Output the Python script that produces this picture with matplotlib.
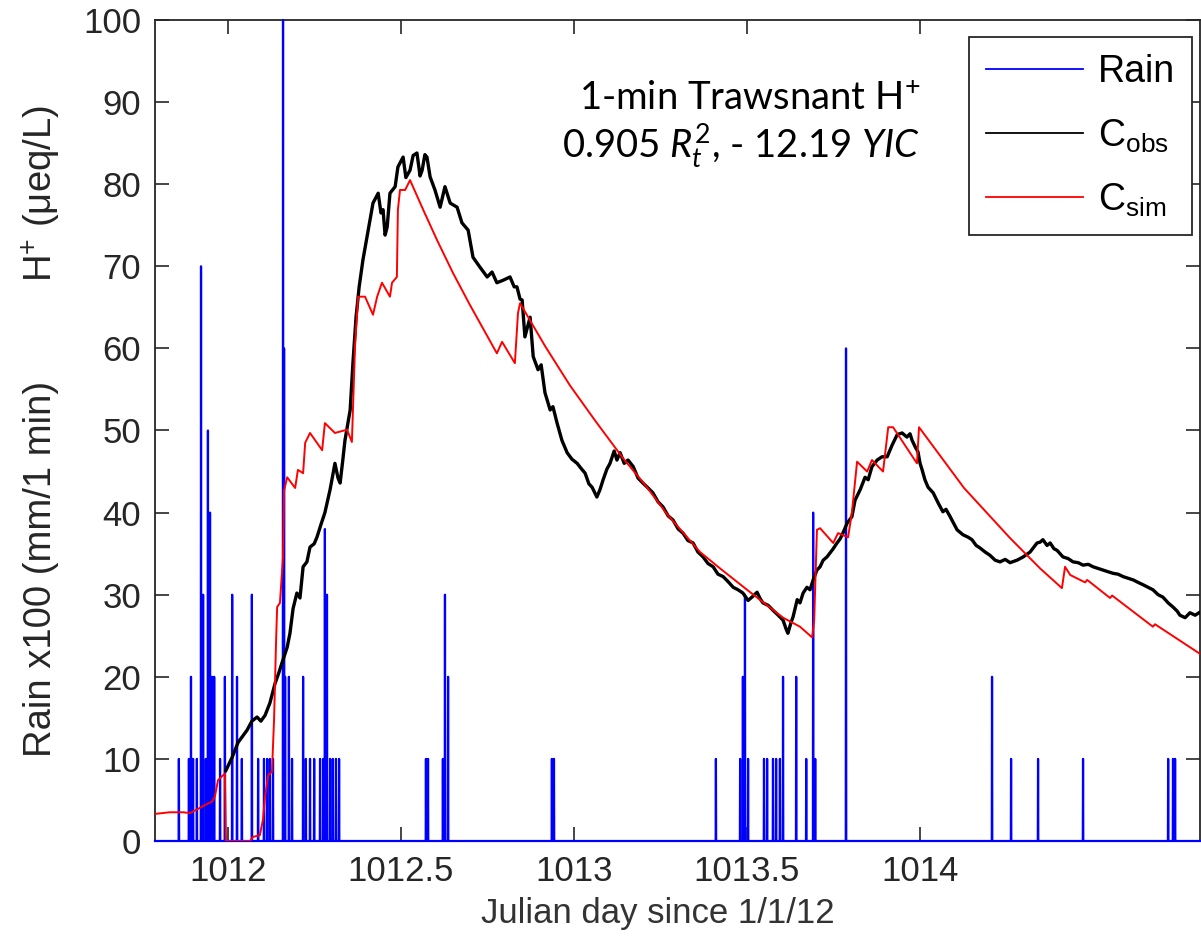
import matplotlib
matplotlib.use('Agg')
import matplotlib.pyplot as plt

plt.rcParams['font.family'] = ['Liberation Sans', 'DejaVu Sans']
plt.rcParams['mathtext.fontset'] = 'custom'
plt.rcParams['mathtext.rm'] = 'Lato'
plt.rcParams['mathtext.it'] = 'Lato:italic'
plt.rcParams['mathtext.sf'] = 'Liberation Sans'

# ---------------- data ----------------
rain_day = [1011.858, 1011.887, 1011.893, 1011.899, 1011.910, 1011.922, 1011.928, 1011.936,
            1011.942, 1011.948, 1011.954, 1011.960, 1011.977, 1011.991, 1012.012, 1012.026,
            1012.040, 1012.069, 1012.087, 1012.104, 1012.113, 1012.121, 1012.130, 1012.159,
            1012.162, 1012.165, 1012.176, 1012.185, 1012.217, 1012.225, 1012.237, 1012.249,
            1012.266, 1012.275, 1012.280, 1012.286, 1012.295, 1012.303, 1012.312, 1012.321,
            1012.572, 1012.578, 1012.621, 1012.627, 1012.636, 1012.936, 1012.942,
            1013.410, 1013.480, 1013.488, 1013.494, 1013.503, 1013.549, 1013.558, 1013.575,
            1013.584, 1013.595, 1013.604, 1013.642, 1013.671, 1013.691, 1013.697, 1013.786,
            1014.208, 1014.263, 1014.341, 1014.471, 1014.717, 1014.731, 1014.737]
rain_val = [10, 10, 20, 10, 10, 70, 30, 10,
            50, 40, 20, 20, 10, 20, 30, 20,
            10, 30, 10, 10, 10, 10, 10, 100,
            60, 20, 20, 10, 20, 10, 10, 10,
            10, 10, 38, 30, 10, 10, 10, 10,
            10, 10, 10, 30, 20, 10, 10,
            10, 10, 20, 30, 10, 10, 10, 10,
            10, 10, 20, 20, 10, 40, 10, 60,
            20, 10, 10, 10, 10, 10, 10]

obs_day = [1011.994, 1012.012, 1012.029, 1012.043, 1012.055, 1012.069, 1012.084, 1012.095,
           1012.107, 1012.121, 1012.136, 1012.147, 1012.156, 1012.171, 1012.179, 1012.188,
           1012.199, 1012.208, 1012.217, 1012.228, 1012.237, 1012.249, 1012.257, 1012.269,
           1012.280, 1012.295, 1012.309, 1012.318, 1012.324, 1012.332, 1012.338, 1012.353,
           1012.361, 1012.370, 1012.379, 1012.390, 1012.405, 1012.419, 1012.434, 1012.442,
           1012.448, 1012.454, 1012.460, 1012.468, 1012.483, 1012.491, 1012.506, 1012.514,
           1012.526, 1012.535, 1012.546, 1012.555, 1012.561, 1012.569, 1012.575, 1012.584,
           1012.598, 1012.613, 1012.627, 1012.642, 1012.662, 1012.676, 1012.694, 1012.708,
           1012.728, 1012.749, 1012.763, 1012.777, 1012.795, 1012.815, 1012.827, 1012.835,
           1012.844, 1012.850, 1012.858, 1012.873, 1012.882, 1012.896, 1012.905, 1012.916,
           1012.931, 1012.939, 1012.951, 1012.965, 1012.980, 1012.994, 1013.009, 1013.020,
           1013.032, 1013.043, 1013.052, 1013.066, 1013.075, 1013.084, 1013.095, 1013.104,
           1013.116, 1013.124, 1013.133, 1013.145, 1013.156, 1013.171, 1013.185, 1013.199,
           1013.214, 1013.228, 1013.243, 1013.257, 1013.272, 1013.286, 1013.301, 1013.315,
           1013.329, 1013.344, 1013.358, 1013.373, 1013.387, 1013.402, 1013.416, 1013.431,
           1013.445, 1013.460, 1013.474, 1013.488, 1013.503, 1013.514, 1013.529, 1013.538,
           1013.546, 1013.561, 1013.575, 1013.590, 1013.604, 1013.613, 1013.618, 1013.627,
           1013.633, 1013.645, 1013.653, 1013.662, 1013.673, 1013.682, 1013.691, 1013.702,
           1013.711, 1013.720, 1013.731, 1013.740, 1013.749, 1013.760, 1013.769, 1013.777,
           1013.789, 1013.803, 1013.812, 1013.827, 1013.841, 1013.850, 1013.861, 1013.876,
           1013.890, 1013.905, 1013.913, 1013.919, 1013.934, 1013.948, 1013.962, 1013.971,
           1013.977, 1013.986, 1013.994, 1014.000, 1014.006, 1014.014, 1014.023, 1014.038,
           1014.052, 1014.066, 1014.075, 1014.087, 1014.107, 1014.124, 1014.139, 1014.150,
           1014.162, 1014.173, 1014.188, 1014.202, 1014.217, 1014.231, 1014.246, 1014.260,
           1014.280, 1014.298, 1014.318, 1014.329, 1014.338, 1014.347, 1014.355, 1014.367,
           1014.376, 1014.387, 1014.396, 1014.413, 1014.428, 1014.442, 1014.457, 1014.471,
           1014.486, 1014.500, 1014.514, 1014.529, 1014.543, 1014.558, 1014.572, 1014.587,
           1014.601, 1014.616, 1014.630, 1014.645, 1014.659, 1014.673, 1014.688, 1014.702,
           1014.717, 1014.731, 1014.743, 1014.751, 1014.766, 1014.780, 1014.795, 1014.806]
obs_h = [8.6, 10.2, 12.0, 12.8, 13.5, 14.6, 15.1, 14.6,
         15.3, 16.8, 19.2, 20.5, 21.7, 23.6, 25.3, 28.3,
         30.2, 29.6, 33.4, 34.0, 35.8, 36.2, 37.0, 38.6,
         40.0, 42.8, 46.0, 44.2, 43.6, 46.5, 48.8, 52.5,
         58.2, 63.8, 67.5, 70.8, 74.4, 77.7, 78.9, 76.5,
         76.9, 73.8, 74.8, 78.9, 79.7, 82.1, 83.3, 80.8,
         81.7, 83.5, 83.8, 81.0, 81.7, 83.6, 83.3, 80.9,
         79.3, 77.2, 79.7, 77.7, 77.2, 75.3, 74.4, 71.1,
         69.9, 68.7, 69.3, 68.0, 68.3, 68.7, 67.5, 67.5,
         66.0, 65.9, 61.4, 63.8, 59.0, 57.4, 58.0, 54.6,
         52.5, 52.9, 50.9, 48.8, 47.3, 46.5, 46.0, 45.4,
         44.8, 43.5, 43.1, 41.9, 42.8, 44.0, 45.3, 46.0,
         47.5, 46.4, 47.3, 46.0, 46.4, 45.6, 44.2, 43.6,
         43.0, 42.4, 41.3, 40.7, 39.6, 39.1, 38.0, 37.5,
         36.6, 36.3, 35.2, 34.6, 33.8, 33.4, 32.5, 32.2,
         31.6, 30.9, 30.6, 30.2, 29.3, 29.7, 30.3, 29.5,
         29.0, 28.7, 28.1, 27.5, 26.9, 25.8, 25.3, 26.6,
         27.3, 29.4, 29.0, 30.2, 30.9, 30.6, 31.8, 33.0,
         33.4, 34.2, 34.6, 35.1, 35.6, 36.3, 36.8, 37.5,
         38.7, 39.5, 41.5, 42.8, 44.3, 44.0, 45.6, 46.4,
         46.8, 46.8, 47.6, 48.2, 49.5, 49.7, 49.2, 49.6,
         48.8, 48.0, 47.4, 46.0, 45.2, 44.0, 43.1, 42.4,
         41.2, 40.1, 40.4, 39.5, 37.9, 37.3, 37.0, 36.7,
         36.0, 35.7, 35.2, 34.8, 34.2, 34.0, 34.3, 33.9,
         34.2, 34.6, 35.2, 35.8, 36.3, 36.4, 36.7, 36.0,
         36.3, 35.6, 35.4, 34.6, 34.4, 34.0, 33.9, 33.6,
         33.7, 33.4, 33.2, 33.0, 32.8, 32.6, 32.5, 32.2,
         32.0, 31.8, 31.5, 31.2, 30.9, 30.6, 30.0, 29.7,
         29.0, 28.5, 28.0, 27.5, 27.2, 27.8, 27.5, 27.8]

sim_day = [1011.789, 1011.832, 1011.870, 1011.890, 1011.913, 1011.934, 1011.954, 1011.962,
           1011.971, 1011.983, 1011.991, 1011.994, 1012.064, 1012.072, 1012.092, 1012.101,
           1012.107, 1012.116, 1012.127, 1012.133, 1012.139, 1012.142, 1012.150, 1012.159,
           1012.162, 1012.171, 1012.194, 1012.202, 1012.217, 1012.223, 1012.237, 1012.272,
           1012.280, 1012.309, 1012.344, 1012.358, 1012.367, 1012.376, 1012.396, 1012.419,
           1012.431, 1012.445, 1012.468, 1012.474, 1012.488, 1012.491, 1012.497, 1012.512,
           1012.526, 1012.565, 1012.604, 1012.650, 1012.699, 1012.740, 1012.777, 1012.792,
           1012.829, 1012.838, 1012.844, 1012.916, 1012.988, 1013.061, 1013.142, 1013.205,
           1013.269, 1013.364, 1013.422, 1013.500, 1013.604, 1013.653, 1013.688,
           1013.694, 1013.702, 1013.711, 1013.749, 1013.763, 1013.792, 1013.803, 1013.818,
           1013.847, 1013.861, 1013.893, 1013.908, 1013.922, 1013.991, 1013.997, 1014.127,
           1014.260, 1014.347, 1014.410, 1014.419, 1014.434, 1014.477, 1014.483, 1014.549,
           1014.555, 1014.673, 1014.679, 1014.809]
sim_h = [3.3, 3.5, 3.5, 3.4, 3.9, 4.4, 4.8, 5.4,
         7.4, 7.9, 8.2, 0.0, 0.0, 0.5, 0.7, 2.6,
         5.4, 8.0, 8.4, 14.7, 24.5, 28.5, 29.0, 34.6,
         42.7, 44.3, 43.0, 45.2, 44.8, 48.5, 49.7, 47.6,
         50.9, 49.7, 50.1, 48.6, 60.2, 66.3, 66.3, 64.1,
         66.3, 68.0, 66.3, 68.0, 68.7, 76.9, 79.3, 79.3,
         80.5, 76.8, 73.2, 69.2, 65.3, 62.2, 59.4, 60.8,
         58.2, 64.3, 65.5, 60.3, 55.5, 51.2, 46.6, 43.4,
         39.8, 35.2, 33.2, 30.6, 27.2, 26.1, 24.8,
         26.9, 37.9, 38.1, 36.3, 37.5, 37.0, 40.0, 46.2,
         45.0, 46.4, 45.0, 50.4, 50.4, 46.0, 50.4, 43.0,
         36.9, 33.2, 30.8, 33.4, 32.4, 31.5, 31.8, 29.6,
         29.9, 26.1, 26.4, 22.8]

x_ticks = [1012, 1012.5, 1013, 1013.5, 1014]
x_ticklabels = ['1012', '1012.5', '1013', '1013.5', '1014']
y_ticks = [0, 10, 20, 30, 40, 50, 60, 70, 80, 90, 100]
legend_labels = ['Rain', r'C$_{\mathsf{obs}}$', r'C$_{\mathsf{sim}}$']

# ---------------- figure ----------------
W, H = 1201, 940
fig = plt.figure(figsize=(W / 100, H / 100), dpi=100)
ax = fig.add_axes([155 / W, 1 - 841 / H, 1045 / W, 821 / H])
XMIN, XMAX = 1011.789, 1014.809

# rain as 1-minute spikes on a zero baseline
minute = 1 / 1440
rx, ry = [XMIN], [0]
for d, v in zip(rain_day, rain_val):
    rx += [d - minute, d, d + minute]
    ry += [0, v, 0]
rx.append(XMAX)
ry.append(0)

ax.plot(rx, ry, color='#0000ff', lw=1.6, clip_on=False, label=legend_labels[0], zorder=2.6)
ax.plot(obs_day, obs_h, color='black', lw=2.4, label=legend_labels[1], zorder=3)
ax.plot(sim_day, sim_h, color='#ff0000', lw=1.4, label=legend_labels[2], zorder=4)

ax.set_xlim(XMIN, XMAX)
ax.set_ylim(0, 100)
ax.set_xticks(x_ticks)
ax.set_xticklabels(x_ticklabels)
ax.set_yticks(y_ticks)
ax.tick_params(direction='in', length=10, width=1.2, top=True, right=True,
               labelsize=25, colors='#262626', pad=10)
for s in ax.spines.values():
    s.set_color('#262626')
    s.set_linewidth(1.3)

ax.set_xlabel('Julian day since 1/1/12', fontsize=25, color='#333333')
ax.xaxis.set_label_coords((658 - 155) / 1045, (841 - 897) / 821)

fig.text(41 / W, 1 - 757 / H, 'Rain x100 (mm/1 min)', rotation=90, ha='center', va='bottom',
         fontsize=27.5, color='#262626')
fig.text(41 / W, 1 - 105 / H, r'H$^{\mathsf{+}}$ (μeq/L)', rotation=90, ha='center', va='top',
         fontsize=27.5, color='#262626')

fig.text(920 / W, 1 - 110 / H, r'1-min Trawsnant H$^{+}$', ha='right', va='baseline',
         fontsize=27.5, family='Lato', color='black')
fig.text(920 / W, 1 - 158 / H, r'0.905 $R_t^{2}$, - 12.19 $YIC$', ha='right', va='baseline',
         fontsize=27.5, family='Lato', color='black')

leg = ax.legend(loc='upper right', bbox_to_anchor=((1192 - 155) / 1045, (841 - 37) / 821),
                borderaxespad=0, fontsize=27, handlelength=2.6, handletextpad=0.4,
                labelspacing=0.72, borderpad=0.45, fancybox=False, framealpha=1)
leg.get_frame().set_edgecolor('#262626')
leg.get_frame().set_linewidth(1.3)
for line in leg.get_lines():
    line.set_linewidth(1.3)

fig.savefig('out.png', dpi=100)
